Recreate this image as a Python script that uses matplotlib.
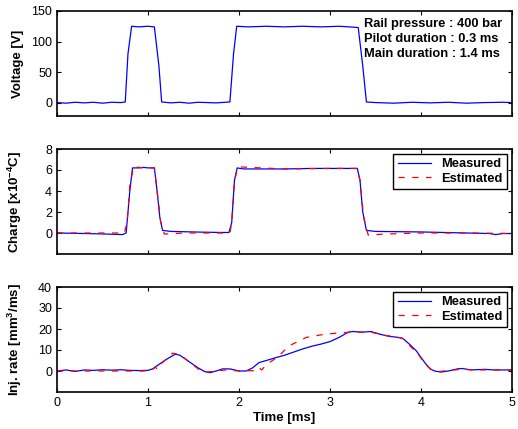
import matplotlib
matplotlib.use("Agg")
import matplotlib.pyplot as plt

plt.rcParams.update({
    "font.family": ["Liberation Sans", "DejaVu Sans"],
    "font.size": 9,
    "xtick.labelsize": 9, "ytick.labelsize": 9,
    "xtick.direction": "in", "ytick.direction": "in",
    "xtick.top": True, "ytick.right": True,
    "xtick.major.size": 3, "ytick.major.size": 3,
    "axes.linewidth": 1.2,
    "mathtext.default": "regular",
})

# ---- voltage (measured) ----
t_volt = [0, 0.1, 0.2, 0.3, 0.4, 0.5, 0.6, 0.7, 0.75, 0.78, 0.82, 0.9, 1.0, 1.07,
          1.12, 1.15, 1.25, 1.35, 1.45, 1.55, 1.65, 1.75, 1.85, 1.90, 1.94, 1.975,
          2.1, 2.3, 2.5, 2.7, 2.9, 3.1, 3.31, 3.36, 3.40, 3.5, 3.7, 3.9, 4.1, 4.3,
          4.5, 4.7, 4.9, 5.0]
volt = [0, -1, 0.5, -0.5, 0.5, -1, 0.5, 0, 1, 80, 125, 124, 125, 124,
        60, 1, -0.5, 0.5, -1, 0.5, 0, -0.5, 0.5, 1, 80, 125,
        124, 125, 124, 125, 124, 125, 123, 60, 1, 0, -1, 0.5, -0.5, 0.5,
        -1, 0, 0.5, 0]

# ---- charge ----
t_chg_meas = [0, 0.3, 0.55, 0.72, 0.76, 0.80, 0.83, 0.9, 0.95, 1.0, 1.07, 1.10, 1.13,
              1.16, 1.25, 1.4, 1.6, 1.8, 1.89, 1.92, 1.95, 1.98, 2.05, 2.5, 2.8, 3.0,
              3.30, 3.33, 3.36, 3.40, 3.5, 4.0, 4.5, 4.75, 4.82, 4.9, 5.0]
chg_meas = [0, -0.05, -0.1, -0.15, 0, 4, 6.2, 6.2, 6.25, 6.2, 6.2, 4, 1.5,
            0.25, 0.15, 0.12, 0.08, 0.05, 0.05, 1, 5, 6.2, 6.1, 6.1, 6.15, 6.15,
            6.15, 5, 2, 0.25, 0.15, 0.1, 0.0, -0.05, -0.15, -0.05, -0.05]
t_chg_est = [0, 0.5, 0.74, 0.77, 0.80, 0.84, 0.95, 1.07, 1.10, 1.14, 1.18, 1.4, 1.9,
             1.92, 1.95, 1.99, 2.5, 3.0, 3.30, 3.33, 3.37, 3.42, 3.6, 4.0, 4.5, 5.0]
chg_est = [0, 0, 0, 1, 4.5, 6.3, 6.2, 6.2, 4, 1, -0.1, 0, 0,
           1, 5, 6.3, 6.1, 6.15, 6.15, 5, 1.5, -0.2, -0.1, 0, 0, -0.05]

# ---- injection rate ----
t_inj_meas = [0, 0.1, 0.2, 0.3, 0.4, 0.5, 0.6, 0.7, 0.8, 0.9, 1.0, 1.05, 1.1, 1.2,
              1.3, 1.35, 1.45, 1.55, 1.62, 1.68, 1.75, 1.82, 1.9, 2.0, 2.08, 2.15,
              2.22, 2.3, 2.4, 2.5, 2.6, 2.7, 2.8, 2.9, 3.0, 3.1, 3.2, 3.25, 3.35,
              3.45, 3.55, 3.65, 3.75, 3.8, 3.88, 3.95, 4.0, 4.05, 4.1, 4.15, 4.22,
              4.3, 4.4, 4.45, 4.55, 4.7, 4.8, 4.9, 5.0]
inj_meas = [0, 0.5, -0.2, 0.5, 0.3, 0.6, 0.4, 0.6, 0.3, 0.2, 0.3, 1, 2.5, 5.5,
            8, 7.5, 4.5, 1.5, -0.2, -0.8, 0, 1, 1, 0, 0, 1.5,
            4, 5, 6.3, 7.5, 9, 10.5, 11.8, 12.8, 14, 16, 18.5, 18.8, 18.5,
            18.8, 17.5, 16.5, 16.0, 15.5, 12.5, 9.5, 6.5, 3.5, 1, 0, -0.5,
            0, 1, 1.2, 0.5, 0.8, 0.5, 0.5, 0.5]
t_inj_est = [0, 0.5, 0.95, 1.05, 1.08, 1.1, 1.13, 1.2, 1.27, 1.35, 1.45, 1.55, 1.65,
             1.75, 1.85, 2.0, 2.2, 2.22, 2.25, 2.28, 2.35, 2.42, 2.55, 2.74, 2.94,
             3.15, 3.3, 3.45, 3.6, 3.75, 3.8, 3.9, 3.97, 4.05, 4.12, 4.2, 4.3,
             4.45, 4.6, 5.0]
inj_est = [0, 0, 0, 0.5, 2, 0.8, 3, 5.5, 8.5, 7.8, 4.5, 1, -0.5,
           0, 0.5, 0, 0.2, 1.5, 0.5, 2, 4.5, 6.4, 12, 16, 17.5,
           18.3, 18.5, 18.5, 17.0, 16, 15.5, 11, 8, 3, 0.5, -0.3, 0.3,
           0.8, 0.5, 0.5]

info = ["Rail pressure : 400 bar", "Pilot duration : 0.3 ms", "Main duration : 1.4 ms"]

W, H = 518, 429
fig = plt.figure(figsize=(W / 100, H / 100), dpi=100)
left, width = 57 / W, 455 / W


def make_ax(top_px, bot_px):
    return fig.add_axes([left, 1 - bot_px / H, width, (bot_px - top_px) / H])


ax1 = make_ax(11, 116)
ax2 = make_ax(149, 254)
ax3 = make_ax(287, 392)

LBL = dict(fontweight="bold", fontsize=9.5)

ax1.plot(t_volt, volt, color="blue", lw=0.9)
ax1.set_ylim(-22, 150)
ax1.set_yticks([0, 50, 100, 150])
ax1.set_ylabel("Voltage [V]", **LBL)
ax1.text(3.37, 0.93, "\n".join(info), transform=ax1.get_xaxis_transform(),
         fontsize=9.3, fontweight="bold", va="top", ha="left", linespacing=1.32)

ax2.plot(t_chg_meas, chg_meas, color="blue", lw=0.9, label="Measured")
ax2.plot(t_chg_est, chg_est, color="red", lw=0.9, ls=(0, (5, 6)), label="Estimated")
ax2.set_ylim(-2, 8)
ax2.set_yticks([0, 2, 4, 6, 8])
ax2.set_ylabel("Charge [x10$^{-4}$C]", **LBL)

ax3.plot(t_inj_meas, inj_meas, color="blue", lw=0.9, label="Measured")
ax3.plot(t_inj_est, inj_est, color="red", lw=0.9, ls=(0, (5, 6)), label="Estimated")
ax3.set_ylim(-10, 40)
ax3.set_yticks([0, 10, 20, 30, 40])
ax3.set_ylabel("Inj. rate [mm$^3$/ms]", **LBL)
ax3.set_xlabel("Time [ms]", labelpad=2, **LBL)

for ax in (ax1, ax2, ax3):
    ax.set_xlim(0, 5)
    ax.set_xticks([0, 1, 2, 3, 4, 5])
    ax.yaxis.set_label_coords(-0.072, 0.5)
    if ax is not ax3:
        ax.set_xticklabels([])

for ax in (ax2, ax3):
    leg = ax.legend(loc="upper right", fancybox=False, edgecolor="black",
                    framealpha=1, borderaxespad=0.35, handlelength=2.6,
                    prop={"weight": "bold", "size": 9.3}, labelspacing=0.2,
                    borderpad=0.35)
    leg.get_frame().set_linewidth(1.0)

fig.savefig("out.png", dpi=100)
